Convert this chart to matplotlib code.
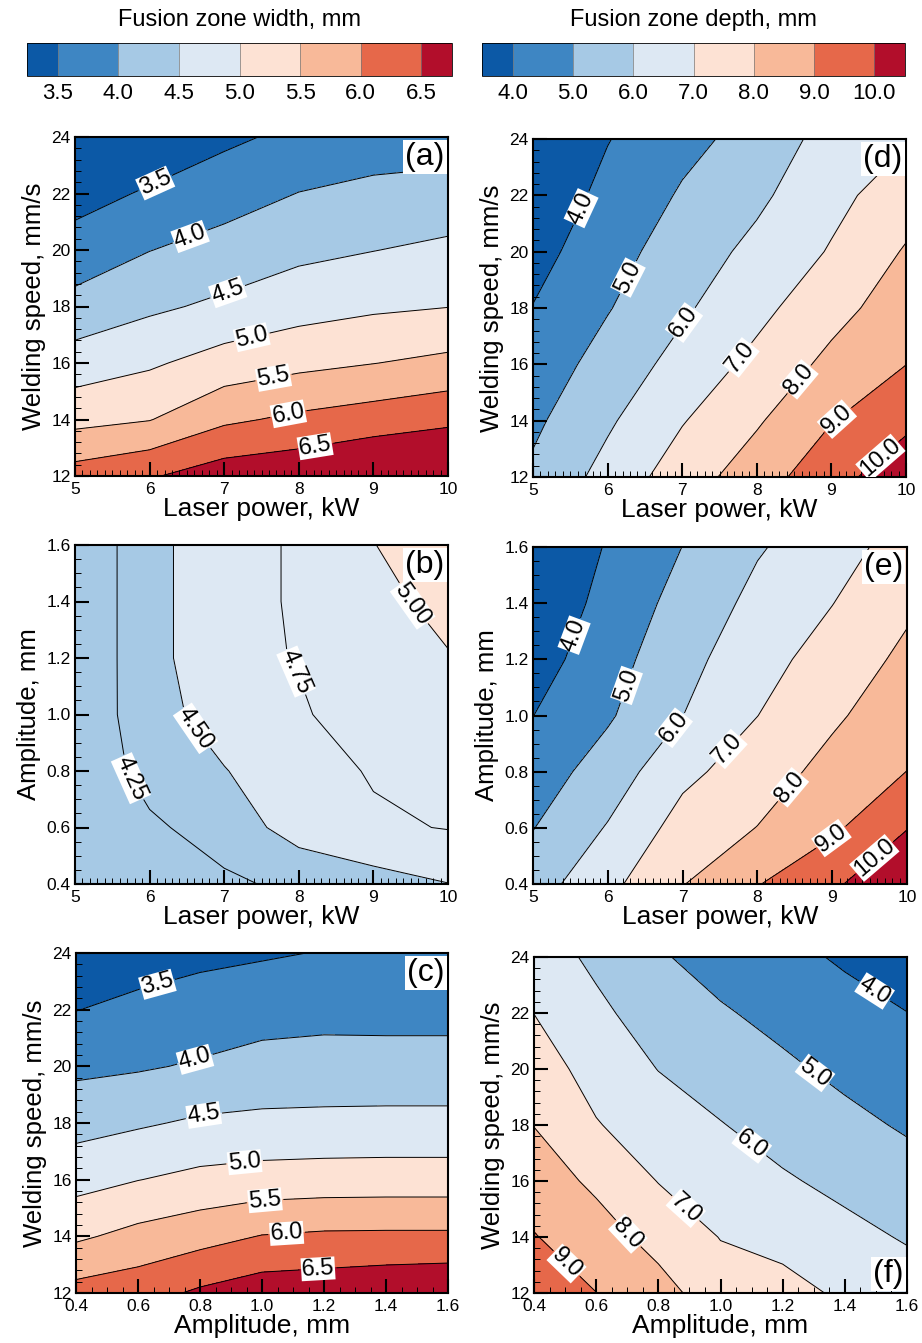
import matplotlib.pyplot as plt
import numpy as np
from matplotlib.colors import ListedColormap, BoundaryNorm
from matplotlib.ticker import AutoMinorLocator, MultipleLocator, FormatStrFormatter

plt.rcParams['font.family'] = ['Liberation Sans', 'DejaVu Sans']

# grid axes
power = [5, 6, 7, 8, 9, 10]
speed = [12, 14, 16, 18, 20, 22, 24]
amplitude = [0.4, 0.6, 0.8, 1.0, 1.2, 1.4, 1.6]

# fusion zone width, rows = speed (12..24), cols = power (5..10)
width_power_speed = [
    [6.22, 6.45, 6.77, 6.87, 7.09, 7.18],
    [5.35, 5.48, 5.91, 6.10, 6.24, 6.39],
    [4.73, 4.93, 5.21, 5.37, 5.49, 5.62],
    [4.16, 4.41, 4.60, 4.80, 4.92, 4.99],
    [3.71, 3.99, 4.18, 4.38, 4.49, 4.60],
    [3.31, 3.56, 3.79, 4.01, 4.12, 4.19],
    [2.90, 3.13, 3.40, 3.62, 3.75, 3.77],
]
# fusion zone width, rows = amplitude (0.4..1.6), cols = power (5..10)
width_power_amp = [
    [4.09, 4.14, 4.21, 4.30, 4.40, 4.495],
    [4.08, 4.21, 4.353, 4.61, 4.715, 4.76],
    [4.06, 4.335, 4.49, 4.65, 4.77, 4.84],
    [4.04, 4.41, 4.60, 4.72, 4.88, 4.92],
    [4.03, 4.42, 4.67, 4.764, 4.88, 4.99],
    [4.03, 4.42, 4.67, 4.775, 4.95, 5.05],
    [4.03, 4.42, 4.67, 4.775, 4.995, 5.12],
]
# fusion zone width, rows = speed (12..24), cols = amplitude (0.4..1.6)
width_amp_speed = [
    [6.18, 6.30, 6.58, 6.78, 6.82, 6.90, 6.96],
    [5.42, 5.65, 5.82, 6.02, 6.08, 6.09, 6.09],
    [4.82, 4.99, 5.13, 5.20, 5.23, 5.24, 5.24],
    [4.32, 4.44, 4.57, 4.61, 4.62, 4.63, 4.63],
    [3.89, 3.95, 4.05, 4.17, 4.20, 4.20, 4.20],
    [3.49, 3.62, 3.71, 3.80, 3.84, 3.83, 3.83],
    [3.11, 3.28, 3.39, 3.45, 3.52, 3.55, 3.56],
]
# fusion zone depth, rows = speed, cols = power
depth_power_speed = [
    [5.19, 6.34, 7.52, 8.52, 9.67, 10.59],
    [4.81, 5.86, 6.94, 7.89, 8.96, 9.79],
    [4.42, 5.39, 6.35, 7.27, 8.26, 8.99],
    [4.03, 4.94, 5.85, 6.73, 7.65, 8.54],
    [3.64, 4.61, 5.48, 6.26, 7.08, 8.09],
    [3.26, 4.28, 5.10, 5.80, 6.72, 7.52],
    [2.87, 3.96, 4.73, 5.33, 6.40, 6.92],
]
# fusion zone depth, rows = amplitude, cols = power
depth_power_amp = [
    [5.55, 6.74, 7.96, 8.95, 9.86, 10.76],
    [4.97, 6.07, 7.39, 8.02, 8.82, 9.97],
    [4.49, 5.45, 6.75, 7.51, 8.32, 9.01],
    [3.99, 4.88, 5.99, 6.99, 7.84, 8.61],
    [3.55, 4.60, 5.67, 6.64, 7.41, 8.22],
    [3.15, 4.35, 5.33, 6.27, 6.98, 7.82],
    [2.75, 4.10, 5.01, 5.91, 6.55, 7.45],
]
# fusion zone depth, rows = speed, cols = amplitude
depth_amp_speed = [
    [9.58, 9.01, 8.37, 7.44, 7.33, 6.84, 6.45],
    [9.05, 8.43, 7.66, 6.97, 6.69, 6.27, 5.92],
    [8.51, 7.81, 6.97, 6.51, 6.11, 5.76, 5.40],
    [7.98, 7.06, 6.48, 6.04, 5.63, 5.25, 4.89],
    [7.49, 6.62, 5.98, 5.57, 5.17, 4.78, 4.45],
    [6.99, 6.21, 5.54, 5.10, 4.72, 4.33, 4.01],
    [6.50, 5.80, 5.10, 4.63, 4.26, 3.88, 3.57],
]

width_levels = [3.5, 4.0, 4.5, 5.0, 5.5, 6.0, 6.5]
depth_levels = [4.0, 5.0, 6.0, 7.0, 8.0, 9.0, 10.0]
width_lines_b = [4.25, 4.50, 4.75, 5.00]

colors = ['#0c59a6', '#3e86c3', '#a6c9e5', '#dde8f3',
          '#fde2d4', '#f8b999', '#e6684a', '#b20e2b']

# where the contour labels sit (data coordinates, one per labelled line)
label_spots = {
    '(a)': [(6.07, 22.4), (6.54, 20.5), (7.05, 18.5), (7.37, 16.9),
            (7.66, 15.5), (7.86, 14.2), (8.21, 13.2)],
    '(b)': [(5.72, 0.77), (6.61, 0.95), (7.89, 1.14), (9.33, 1.35)],
    '(c)': [(0.665, 22.8), (0.78, 20.4), (0.81, 18.5), (0.945, 16.5),
            (1.01, 15.2), (1.08, 14.0), (1.18, 13.0)],
    '(d)': [(5.68, 21.5), (6.26, 19.1), (7.04, 17.45), (7.80, 16.2),
            (8.53, 15.55), (9.09, 14.0), (9.62, 12.8)],
    '(e)': [(5.51, 1.29), (6.22, 1.11), (6.91, 0.95), (7.67, 0.865),
            (8.36, 0.76), (8.90, 0.60), (9.54, 0.50)],
    '(f)': [(1.485, 22.6), (1.30, 19.8), (1.10, 17.3), (0.87, 14.8),
            (0.68, 13.9), (0.50, 13.0)],
}


def make_cmap():
    cmap = ListedColormap(colors[1:-1])
    cmap.set_under(colors[0])
    cmap.set_over(colors[-1])
    return cmap


fig = plt.figure(figsize=(9.22, 13.43), dpi=100)

W, H = 922, 1343


def px_axes(x0, y0, x1, y1):
    return fig.add_axes([x0 / W, 1 - y1 / H, (x1 - x0) / W, (y1 - y0) / H])


panels = [
    # (box, x, y, z, fill levels, line levels, fmt, xlabel, ylabel, tag, tag at bottom)
    ((75, 137, 448, 476), power, speed, width_power_speed, width_levels, width_levels,
     '%.1f', 'Laser power, kW', 'Welding speed, mm/s', '(a)', False),
    ((75, 545, 448, 884), power, amplitude, width_power_amp, width_levels, width_lines_b,
     '%.2f', 'Laser power, kW', 'Amplitude, mm', '(b)', False),
    ((76, 953, 448, 1293), amplitude, speed, width_amp_speed, width_levels, width_levels,
     '%.1f', 'Amplitude, mm', 'Welding speed, mm/s', '(c)', False),
    ((533, 139, 906, 477), power, speed, depth_power_speed, depth_levels, depth_levels,
     '%.1f', 'Laser power, kW', 'Welding speed, mm/s', '(d)', False),
    ((533, 547, 907, 884), power, amplitude, depth_power_amp, depth_levels, depth_levels,
     '%.1f', 'Laser power, kW', 'Amplitude, mm', '(e)', False),
    ((534, 957, 907, 1293), amplitude, speed, depth_amp_speed, depth_levels, depth_levels,
     '%.1f', 'Amplitude, mm', 'Welding speed, mm/s', '(f)', True),
]

fills = []
for box, xs, ys, zz, flev, llev, fmt, xl, yl, tag, tag_bottom in panels:
    ax = px_axes(*box)
    X, Y = np.meshgrid(xs, ys)
    Z = np.array(zz)
    norm = BoundaryNorm(flev, ncolors=6)
    cf = ax.contourf(X, Y, Z, levels=flev, cmap=make_cmap(), norm=norm, extend='both')
    fills.append(cf)
    cl = ax.contour(X, Y, Z, levels=llev, colors='black', linewidths=0.7)
    labels = ax.clabel(cl, fmt=fmt, fontsize=17, inline=True, inline_spacing=2,
                       manual=label_spots[tag])
    for t in labels:
        t.set_bbox(dict(facecolor='white', edgecolor='none', pad=0.3))

    ax.set_xlim(xs[0], xs[-1])
    ax.set_ylim(ys[0], ys[-1])
    if xs is amplitude:
        ax.xaxis.set_major_locator(MultipleLocator(0.2))
        ax.xaxis.set_major_formatter(FormatStrFormatter('%.1f'))
        ax.xaxis.set_minor_locator(AutoMinorLocator(4))
    else:
        ax.xaxis.set_major_locator(MultipleLocator(1))
        ax.xaxis.set_minor_locator(AutoMinorLocator(10))
    if ys is amplitude:
        ax.yaxis.set_major_locator(MultipleLocator(0.2))
        ax.yaxis.set_major_formatter(FormatStrFormatter('%.1f'))
        ax.yaxis.set_minor_locator(AutoMinorLocator(4))
    else:
        ax.yaxis.set_major_locator(MultipleLocator(2))
        ax.yaxis.set_minor_locator(AutoMinorLocator(5))

    ax.tick_params(which='major', direction='in', length=10, width=1.5,
                   labelsize=12.5)
    ax.tick_params(axis='x', which='major', pad=4)
    ax.tick_params(axis='y', which='major', pad=3)
    ax.tick_params(which='minor', direction='in', length=4, width=0.7)
    for s in ax.spines.values():
        s.set_linewidth(1.5)
    ax.set_xlabel(xl, fontsize=19, labelpad=0)
    ax.set_ylabel(yl, fontsize=18.5, labelpad=4)

    if tag_bottom:
        ax.text(0.99, 0.012, tag, transform=ax.transAxes, ha='right', va='bottom',
                fontsize=23, bbox=dict(facecolor='white', edgecolor='none', pad=1.5))
    else:
        ax.text(0.99, 0.985, tag, transform=ax.transAxes, ha='right', va='top',
                fontsize=23, bbox=dict(facecolor='white', edgecolor='none', pad=1.5))

# colorbars
cbar_info = [
    ((27, 43, 452, 76), fills[0], width_levels, 'Fusion zone width, mm'),
    ((482, 43, 905, 76), fills[3], depth_levels, 'Fusion zone depth, mm'),
]
for box, cf, lev, title in cbar_info:
    cax = px_axes(*box)
    cb = fig.colorbar(cf, cax=cax, orientation='horizontal', ticks=lev,
                      extendrect=True, extendfrac=0.085, drawedges=True)
    cb.ax.xaxis.set_major_formatter(FormatStrFormatter('%.1f'))
    cb.ax.tick_params(length=0, labelsize=16, pad=5)
    cb.outline.set_linewidth(0.6)
    cb.dividers.set_color('#777777')
    cb.dividers.set_linewidth(0.5)
    cb.ax.set_title(title, fontsize=17, pad=12)

fig.savefig('out.png', dpi=100)
